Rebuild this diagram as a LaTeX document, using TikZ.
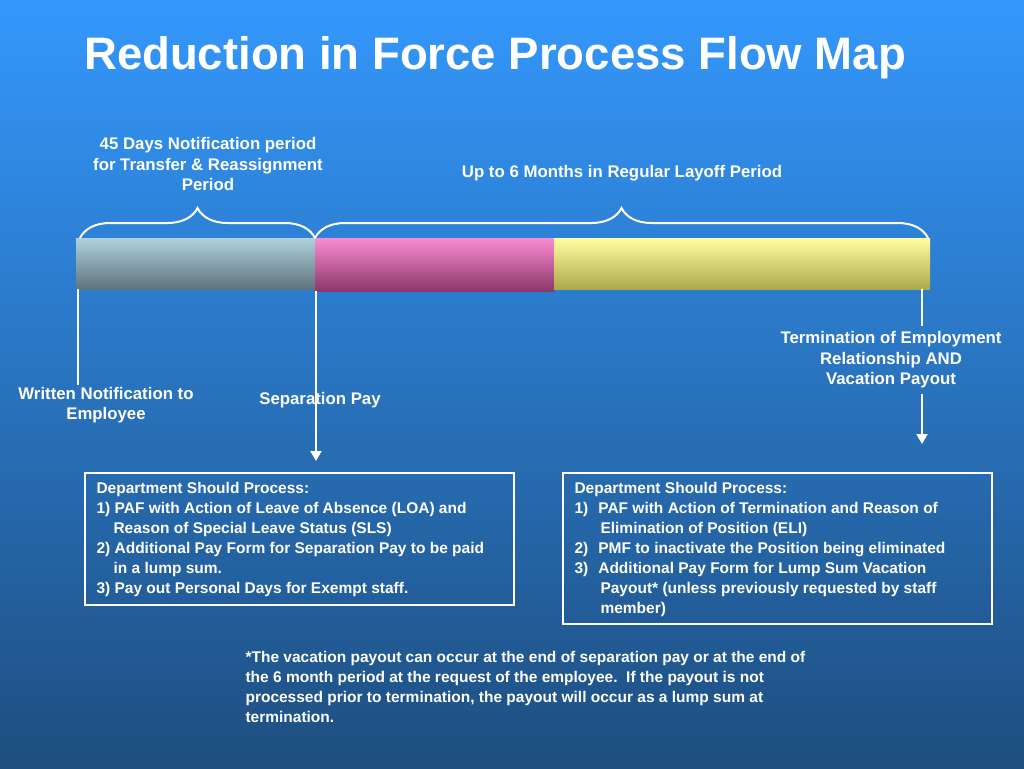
\documentclass[tikz,border=0pt]{standalone}
\usepackage{fontspec}
\setmainfont{Liberation Sans}
\usetikzlibrary{decorations.pathreplacing,arrows.meta}
\definecolor{bgtop}{RGB}{52,152,252}
\definecolor{bgbot}{RGB}{30,78,128}
\begin{document}
\begin{tikzpicture}[x=1pt,y=-1pt,
  lbl/.style={text=white,font=\bfseries\fontsize{16.8}{20.5}\selectfont,align=center},
  box/.style={draw=white,line width=2pt,anchor=north west,inner sep=0pt},
  boxtxt/.style={text=white,font=\bfseries\fontsize{15.5}{20}\selectfont,anchor=north west,align=left},
  brace/.style={draw=white,line width=2pt,decorate,decoration={brace,amplitude=30pt,aspect=0.5}},
  vline/.style={draw=white,line width=2pt},
  arr/.style={vline,-{Triangle[length=10pt,width=11pt]}}]
\useasboundingbox (0,0) rectangle (1024,768);
\shade[top color=bgtop,bottom color=bgbot] (0,0) rectangle (1024,768);
\node[text=white,font=\bfseries\fontsize{45.5}{52}\selectfont] (title) at (495,58) {Reduction in Force Process Flow Map};
% bar
\shade[top color={rgb,255:red,175;green,210;blue,220},bottom color={rgb,255:red,95;green,115;blue,125}] (76,238) rectangle (315,289);
\shade[top color={rgb,255:red,250;green,140;blue,210},bottom color={rgb,255:red,140;green,55;blue,105}] (315,238) rectangle (554,291);
\shade[top color={rgb,255:red,255;green,255;blue,160},bottom color={rgb,255:red,170;green,170;blue,75}] (554,238) rectangle (930,289);
\coordinate (b1l) at (80,238); \coordinate (b1r) at (315,238);
\coordinate (b2l) at (315,238); \coordinate (b2r) at (928,238);
\draw[brace] (b1l) -- (b1r);
\draw[brace] (b2l) -- (b2r);
\node[lbl] (t45) at (208,164) {45 Days Notification period\\for Transfer \& Reassignment\\Period};
\node[lbl] (t6) at (622,173) {Up to 6 Months in Regular Layoff Period};
% lines
\coordinate (l1a) at (78,289); \coordinate (l1b) at (78,385);
\draw[vline] (l1a) -- (l1b);
\coordinate (l2a) at (316,291); \coordinate (l2b) at (316,461);
\draw[arr] (l2a) -- (l2b);
\coordinate (l3a) at (922,289); \coordinate (l3b) at (922,326);
\draw[vline] (l3a) -- (l3b);
\coordinate (l4a) at (922,394); \coordinate (l4b) at (922,444);
\draw[arr] (l4a) -- (l4b);
\node[lbl] (wn) at (106,405) {Written Notification to\\Employee};
\node[lbl] (sp) at (320,400) {Separation Pay};
\node[lbl] (te) at (891,360) {Termination of Employment\\Relationship AND\\Vacation Payout};
% boxes
\node[box,minimum width=429pt,minimum height=132pt] (boxL) at (84,472) {};
\node[boxtxt] (txtL) at (93,479) {Department Should Process:\\
1) PAF with Action of Leave of Absence (LOA) and\\
\hspace*{17pt}Reason of Special Leave Status (SLS)\\
2) Additional Pay Form for Separation Pay to be paid\\
\hspace*{17pt}in a lump sum.\\
3) Pay out Personal Days for Exempt staff.};
\node[box,minimum width=429pt,minimum height=151pt] (boxR) at (562,472) {};
\node[boxtxt] (txtR) at (571,479) {Department Should Process:\\
1)\hspace*{10pt}PAF with Action of Termination and Reason of\\
\hspace*{26pt}Elimination of Position (ELI)\\
2)\hspace*{10pt}PMF to inactivate the Position being eliminated\\
3)\hspace*{10pt}Additional Pay Form for Lump Sum Vacation\\
\hspace*{26pt}Payout* (unless previously requested by staff\\
\hspace*{26pt}member)};
\node[boxtxt] (foot) at (242,648) {*The vacation payout can occur at the end of separation pay or at the end of\\
the 6 month period at the request of the employee.\ \ If the payout is not\\
processed prior to termination, the payout will occur as a lump sum at\\
termination.};
\end{tikzpicture}
\end{document}
